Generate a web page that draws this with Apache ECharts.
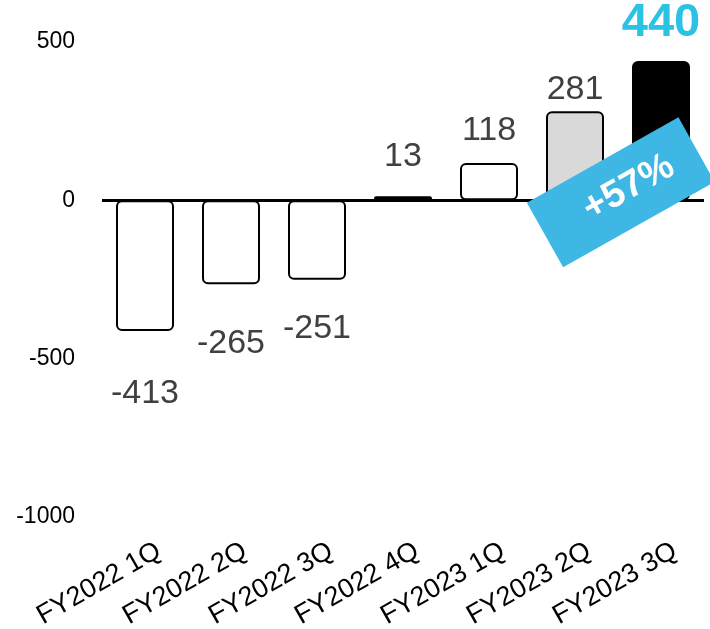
<!DOCTYPE html>
<html><head><meta charset="utf-8">
<script src="https://cdn.jsdelivr.net/npm/echarts@6/dist/echarts.min.js"></script>
<style>html,body{margin:0;padding:0;background:#fff}#c{width:710px;height:629px}</style>
</head><body><div id="c"></div>
<script>
var categories = ['FY2022 1Q','FY2022 2Q','FY2022 3Q','FY2022 4Q','FY2023 1Q','FY2023 2Q','FY2023 3Q'];
var values = [-413, -265, -251, 13, 118, 281, 440];
var yTicks = [-1000, -500, 0, 500];
var growthText = '+57%';

var FONT = '"Liberation Sans", Arial, sans-serif';
var fills = ['#ffffff','#ffffff','#ffffff','#ffffff','#ffffff','#d9d9d9','#000000'];
var labelDist = [46, 42, 32, 23, 15, 5, 14];

var data = values.map(function (v, i) {
  var last = i === values.length - 1;
  return {
    value: v,
    itemStyle: { color: fills[i] },
    label: {
      position: v < 0 ? 'bottom' : 'top',
      distance: labelDist[i],
      color: last ? '#2cc2e4' : '#404040',
      fontSize: last ? 47 : 34,
      fontWeight: last ? 'bold' : 'normal'
    }
  };
});

var chart = echarts.init(document.getElementById('c'));
var ang = 29.4 * Math.PI / 180;
chart.setOption({
  animation: false,
  grid: { left: 102, right: 6, top: 42, bottom: 112, containLabel: false, outerBoundsMode: 'none' },
  xAxis: {
    type: 'category',
    data: categories,
    axisLine: { show: false },
    axisTick: { show: false },
    axisLabel: {
      rotate: 30, margin: 40, fontSize: 27, color: '#000', fontFamily: FONT,
      interval: 0, padding: [0, -16, 0, 0]
    }
  },
  yAxis: {
    type: 'value', min: yTicks[0], max: yTicks[yTicks.length - 1], interval: 500,
    axisLine: { show: false }, axisTick: { show: false }, splitLine: { show: false },
    axisLabel: { fontSize: 23, color: '#000', fontFamily: FONT, margin: 27,
      formatter: function (v) { return String(v); } }
  },
  series: [{
    type: 'bar',
    data: data,
    barWidth: 58,
    itemStyle: { borderColor: '#000', borderWidth: 2, borderRadius: 5 },
    label: { show: true, fontFamily: FONT },
    markLine: {
      silent: true, symbol: 'none', label: { show: false },
      lineStyle: { color: '#000', width: 3, type: 'solid' },
      data: [{ yAxis: 0 }]
    }
  }],
  graphic: [{
    type: 'group',
    x: 545, y: 235,
    rotation: ang,
    zlevel: 2,
    children: [
      { type: 'rect', zlevel: 2, z: 100, shape: { x: 0, y: -37, width: 174, height: 74 }, style: { fill: '#3fb7e4' } },
      { type: 'text', zlevel: 2, z: 101, x: 96, y: 0, style: { text: growthText, fill: '#fff', font: 'bold 38px ' + FONT, textAlign: 'center', textVerticalAlign: 'middle' } }
    ]
  }]
});
</script></body></html>
